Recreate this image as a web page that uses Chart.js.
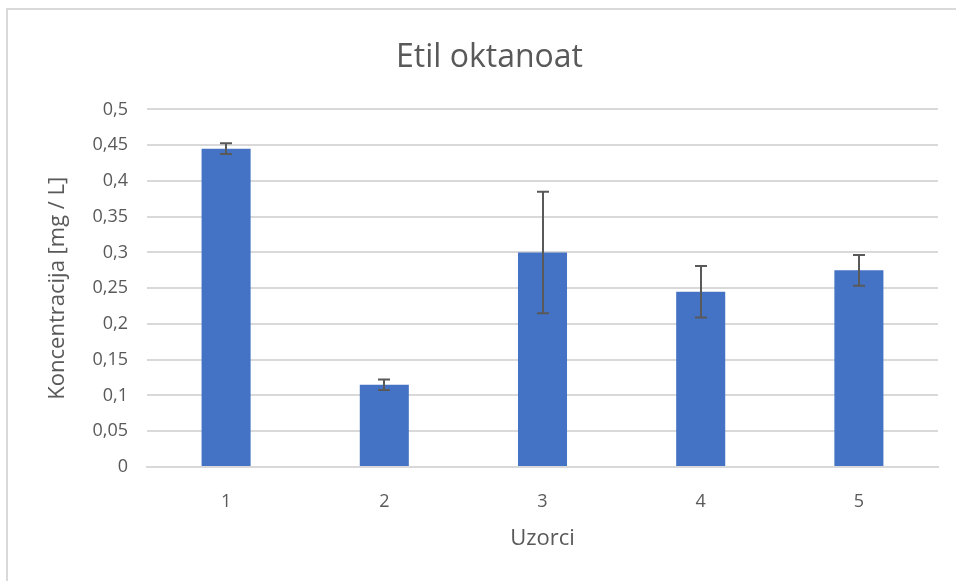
<!DOCTYPE html>
<html>
<head>
<meta charset="utf-8">
<script src="https://cdn.jsdelivr.net/npm/chart.js@4"></script>
<style>
  html, body { margin: 0; padding: 0; background: #fff; overflow: hidden; }
  #wrap { position: relative; width: 956px; height: 581px; }
  #frame {
    position: absolute; left: 6px; top: 8px; width: 960px; height: 600px;
    border-top: 2px solid #d9d9d9; border-left: 2px solid #d9d9d9;
  }
  canvas { position: absolute; left: 0; top: 0; }
</style>
</head>
<body>
<div id="wrap">
  <div id="frame"></div>
  <canvas id="chart" width="956" height="581"></canvas>
</div>
<script>
const categories = ['1', '2', '3', '4', '5'];
const concentration = [0.445, 0.115, 0.300, 0.245, 0.275];
const errorPlusMinus = [0.0075, 0.0075, 0.085, 0.036, 0.0215];
const yTickLabels = ['0', '0,05', '0,1', '0,15', '0,2', '0,25', '0,3', '0,35', '0,4', '0,45', '0,5'];

const textColor = '#595959';
const fontFamily = "'Open Sans', 'Noto Sans', sans-serif";

// draws the +/- error whiskers through the y scale
const errorBars = {
  id: 'errorBars',
  afterDatasetsDraw(chart) {
    const { ctx } = chart;
    const yScale = chart.scales.y;
    const meta = chart.getDatasetMeta(0);
    ctx.save();
    ctx.strokeStyle = '#595959';
    ctx.lineWidth = 2;
    meta.data.forEach((bar, i) => {
      const v = concentration[i];
      const e = errorPlusMinus[i];
      const top = yScale.getPixelForValue(v + e);
      const bottom = yScale.getPixelForValue(v - e);
      const x = Math.round(bar.x);
      const cap = 6;
      ctx.beginPath();
      ctx.moveTo(x, top);
      ctx.lineTo(x, bottom);
      ctx.moveTo(x - cap, top);
      ctx.lineTo(x + cap, top);
      ctx.moveTo(x - cap, bottom);
      ctx.lineTo(x + cap, bottom);
      ctx.stroke();
    });
    ctx.restore();
  },
};

new Chart(document.getElementById('chart').getContext('2d'), {
  type: 'bar',
  data: {
    labels: categories,
    datasets: [
      {
        data: concentration,
        backgroundColor: '#4472c4',
        borderWidth: 0,
        categoryPercentage: 1,
        barPercentage: 0.31,
      },
    ],
  },
  options: {
    responsive: false,
    animation: false,
    layout: { padding: { left: 41, right: 18, top: 0, bottom: 25 } },
    plugins: {
      legend: { display: false },
      tooltip: { enabled: false },
      title: {
        display: true,
        text: 'Etil oktanoat',
        color: textColor,
        font: { family: fontFamily, size: 32, weight: 'normal', lineHeight: 1.2 },
        padding: { top: 39, bottom: 32 },
      },
    },
    scales: {
      x: {
        grid: { display: false, drawTicks: false },
        border: { display: true, color: '#d9d9d9', width: 2 },
        ticks: { color: textColor, font: { family: fontFamily, size: 18 }, padding: 24 },
        title: {
          display: true,
          text: 'Uzorci',
          color: textColor,
          font: { family: fontFamily, size: 22, lineHeight: 1.2 },
        },
        afterFit: (scale) => { scale.height = 89; },
      },
      y: {
        min: 0,
        max: 0.5,
        ticks: {
          stepSize: 0.05,
          color: textColor,
          font: { family: fontFamily, size: 18 },
          padding: 19,
          callback: (value, index) => yTickLabels[index],
        },
        grid: { color: '#d9d9d9', lineWidth: 2, drawTicks: false },
        border: { display: false },
        title: {
          display: true,
          text: 'Koncentracija [mg / L]',
          color: textColor,
          font: { family: fontFamily, size: 22, lineHeight: 1.2 },
        },
        afterFit: (scale) => { scale.width = 106; },
      },
    },
  },
  plugins: [errorBars],
});
</script>
</body>
</html>
